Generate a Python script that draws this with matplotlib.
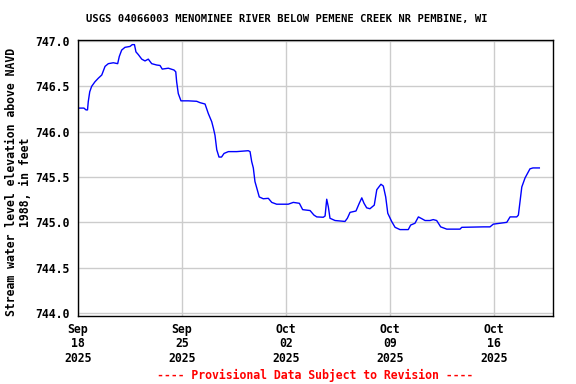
import matplotlib
matplotlib.use("Agg")
import matplotlib.pyplot as plt
import matplotlib.dates as mdates
import numpy as np
import datetime as dt

# Data: days since 2025-09-18 00:00 and stream water level (ft)
days = [0.00, 0.40, 0.54, 0.64, 0.69, 0.79, 0.92, 1.14, 1.37, 1.60, 1.82, 2.04, 2.38, 2.67,
        2.78, 2.94, 3.16, 3.50, 3.65, 3.80, 3.90, 4.06, 4.29, 4.51, 4.73, 4.96, 5.30, 5.52,
        5.67, 6.08, 6.46, 6.58, 6.64, 6.75, 6.93, 7.42, 7.99, 8.21, 8.55, 8.77, 9.00, 9.11,
        9.22, 9.34, 9.49, 9.66, 9.83, 10.12, 10.68, 11.46, 11.58, 11.69, 11.80, 11.91, 12.03,
        12.20, 12.47, 12.81, 13.04, 13.37, 14.15, 14.49, 14.90, 15.12, 15.62, 15.88, 16.07,
        16.51, 16.63, 16.74, 16.85, 16.96, 17.30, 17.97, 18.13, 18.31, 18.71, 18.93, 19.10,
        19.25, 19.43, 19.65, 19.94, 20.11, 20.39, 20.55, 20.71, 20.85, 21.11, 21.34, 21.67,
        22.23, 22.39, 22.68, 22.91, 23.14, 23.36, 23.69, 23.91, 24.14, 24.41, 24.82, 25.71,
        25.83, 27.28, 27.73, 27.95, 28.86, 29.08, 29.53, 29.64, 29.87, 30.09, 30.42, 30.62,
        31.05]
levels = [746.26, 746.26, 746.24, 746.24, 746.33, 746.44, 746.50, 746.55, 746.59, 746.625,
          746.72, 746.75, 746.76, 746.75, 746.83, 746.90, 746.93, 746.94, 746.96, 746.96,
          746.88, 746.85, 746.80, 746.78, 746.80, 746.75, 746.735, 746.73, 746.69, 746.70,
          746.68, 746.66, 746.55, 746.42, 746.34, 746.34, 746.335, 746.32, 746.305, 746.20,
          746.11, 746.04, 745.96, 745.80, 745.72, 745.72, 745.76, 745.78, 745.78, 745.79,
          745.78, 745.67, 745.60, 745.45, 745.38, 745.28, 745.26, 745.265, 745.22, 745.20,
          745.20, 745.22, 745.21, 745.14, 745.13, 745.08, 745.06, 745.056, 745.07, 745.255,
          745.17, 745.045, 745.02, 745.01, 745.045, 745.11, 745.125, 745.21, 745.27, 745.21,
          745.16, 745.15, 745.19, 745.36, 745.42, 745.40, 745.28, 745.10, 745.01, 744.945,
          744.92, 744.92, 744.97, 744.99, 745.06, 745.04, 745.02, 745.02, 745.03, 745.02,
          744.95, 744.925, 744.925, 744.945, 744.95, 744.95, 744.98, 745.00, 745.06, 745.06,
          745.08, 745.39, 745.49, 745.59, 745.60, 745.60]

yticks = [744.0, 744.5, 745.0, 745.5, 746.0, 746.5, 747.0]
xtick_dates = ["2025-09-18", "2025-09-25", "2025-10-02", "2025-10-09", "2025-10-16"]

title = "USGS 04066003 MENOMINEE RIVER BELOW PEMENE CREEK NR PEMBINE, WI"
ylabel = "Stream water level elevation above NAVD\n1988, in feet"
footer = "---- Provisional Data Subject to Revision ----"

start = dt.datetime(2025, 9, 18)
times = [start + dt.timedelta(days=d) for d in days]

mono = "DejaVu Sans Mono"
fig = plt.figure(figsize=(5.76, 3.84), dpi=100)
ax = fig.add_axes([78/576, 1-316/384, 475/576, (316-39.5)/384])

ax.plot(times, levels, color="#0000ff", lw=1.0)

ax.set_ylim(743.967, 747.0165)
ax.set_xlim(start, start + dt.timedelta(days=31.97))

ax.set_yticks(yticks)
ax.set_yticklabels([f"{v:.1f}" for v in yticks], fontfamily=mono, fontweight="bold", fontsize=8.3)
xt = [dt.datetime.strptime(s, "%Y-%m-%d") for s in xtick_dates]
ax.set_xticks(xt)
ax.set_xticklabels([d.strftime("%b\n%d\n%Y") for d in xt], fontfamily=mono,
                   fontweight="bold", fontsize=8.3, linespacing=1.15)
ax.tick_params(length=0, pad=6)
ax.tick_params(axis="x", pad=5)
ax.grid(True, color="#cccccc", lw=1)
ax.set_axisbelow(True)
for s in ax.spines.values():
    s.set_color("black")
    s.set_linewidth(1)

ax.set_ylabel(ylabel, fontfamily=mono, fontweight="bold", fontsize=8.3, linespacing=1.1)
ax.yaxis.set_label_coords(-0.097, 0.485)

fig.text(287/576, 1-19/384, title, ha="center", va="center", fontfamily=mono,
         fontweight="bold", fontsize=7.6)
fig.text(315.5/576, 1-375/384, footer, ha="center", va="center", fontfamily=mono,
         fontweight="bold", fontsize=8.3, color="red")

fig.savefig("out.png", dpi=100)
